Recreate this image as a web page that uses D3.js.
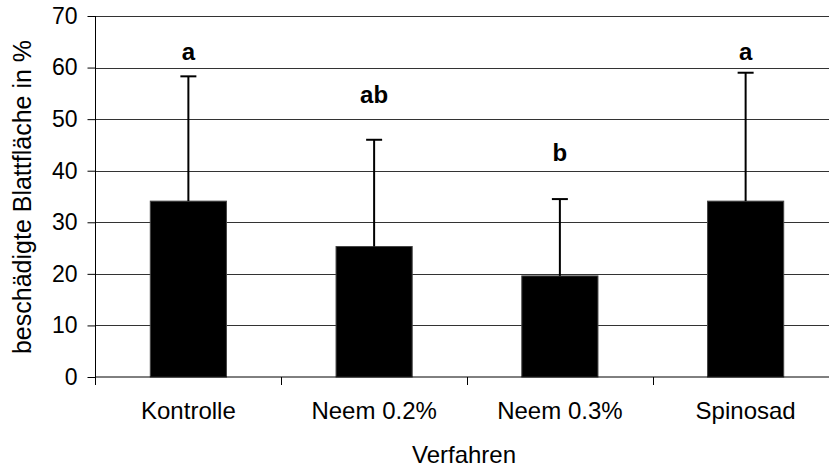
<!DOCTYPE html>
<html><head><meta charset="utf-8">
<script src="https://cdn.jsdelivr.net/npm/d3@7"></script>
<style>html,body{margin:0;padding:0;background:#fff;} svg{display:block;font-family:"Liberation Sans",Arial,sans-serif;}</style>
</head><body>
<svg id="c" width="829" height="468"></svg>
<script>
const categories = ["Kontrolle", "Neem 0.2%", "Neem 0.3%", "Spinosad"];
const means = [34.1, 25.3, 19.6, 34.1];
const errorTops = [58.3, 46.0, 34.5, 59.0];
const letters = ["a", "ab", "b", "a"];
const letterPos = [61.5, 53.1, 41.9, 61.5];
const yTicks = [0, 10, 20, 30, 40, 50, 60, 70];
const yTitle = "beschädigte Blattfläche in %";
const xTitle = "Verfahren";

(function () {
const svg = d3.select("#c");
const pLeft = 95.5, pRight = 838.5, pTop = 16, pBottom = 377;
const x = d3.scaleBand().domain(categories).range([pLeft, pRight]).padding(0);
const y = d3.scaleLinear().domain([0, 70]).range([pBottom, pTop]);
const bw = x.bandwidth();
const barW = bw * 0.41;

// gridlines
svg.append("g").selectAll("line").data(yTicks.filter(d => d > 0)).join("line")
  .attr("x1", pLeft).attr("x2", pRight)
  .attr("y1", d => Math.round(y(d)) + 0.5).attr("y2", d => Math.round(y(d)) + 0.5)
  .attr("stroke", "#333").attr("stroke-width", 1);

// bars
svg.append("g").selectAll("rect").data(categories).join("rect")
  .attr("x", d => x(d) + (bw - barW) / 2)
  .attr("width", barW)
  .attr("y", (d, i) => y(means[i]))
  .attr("height", (d, i) => y(0) - y(means[i]))
  .attr("fill", "#000").attr("stroke", "#444").attr("stroke-width", 1);

// error bars
const eg = svg.append("g");
categories.forEach((c, i) => {
  const cx = x(c) + bw / 2;
  eg.append("line").attr("x1", cx).attr("x2", cx)
    .attr("y1", y(means[i])).attr("y2", y(errorTops[i]))
    .attr("stroke", "#000").attr("stroke-width", 2);
  eg.append("line").attr("x1", cx - 8).attr("x2", cx + 8)
    .attr("y1", y(errorTops[i])).attr("y2", y(errorTops[i]))
    .attr("stroke", "#000").attr("stroke-width", 2);
});

// letters
svg.append("g").selectAll("text").data(categories).join("text")
  .attr("x", d => x(d) + bw / 2)
  .attr("y", (d, i) => y(letterPos[i]))
  .attr("text-anchor", "middle")
  .attr("font-weight", "bold").attr("font-size", 24)
  .text((d, i) => letters[i]);

// y axis
const yAxis = d3.axisLeft(y).tickValues(yTicks).tickSize(8).tickPadding(10).tickFormat(d3.format("d"));
const yg = svg.append("g").attr("transform", `translate(${pLeft},0)`).call(yAxis);
yg.select(".domain").remove();
yg.selectAll(".tick line").attr("stroke", "#000");
yg.selectAll(".tick text").attr("font-size", 23).attr("font-family", "Liberation Sans, Arial, sans-serif").attr("fill", "#000");
svg.append("line").attr("x1", pLeft).attr("x2", pLeft).attr("y1", pTop).attr("y2", pBottom + 8)
  .attr("stroke", "#000").attr("stroke-width", 1);

// x axis
const xg = svg.append("g").attr("transform", `translate(0,${pBottom})`)
  .call(d3.axisBottom(x).tickSize(0).tickPadding(25));
xg.select(".domain").remove();
xg.selectAll(".tick text").attr("font-size", 24).attr("font-family", "Liberation Sans, Arial, sans-serif").attr("fill", "#000");
svg.append("line").attr("x1", pLeft).attr("x2", pRight).attr("y1", pBottom).attr("y2", pBottom)
  .attr("stroke", "#000").attr("stroke-width", 1);
svg.append("g").selectAll("line").data(categories.slice(1)).join("line")
  .attr("x1", d => Math.round(x(d)) + 0.5).attr("x2", d => Math.round(x(d)) + 0.5)
  .attr("y1", pBottom).attr("y2", pBottom + 8)
  .attr("stroke", "#000").attr("stroke-width", 1);

// titles
svg.append("text").attr("x", 464).attr("y", 463)
  .attr("text-anchor", "middle").attr("font-size", 24).text(xTitle);
svg.append("text").attr("transform", `translate(31,197) rotate(-90)`)
  .attr("text-anchor", "middle").attr("font-size", 25).text(yTitle);
})();
</script>
</body></html>
